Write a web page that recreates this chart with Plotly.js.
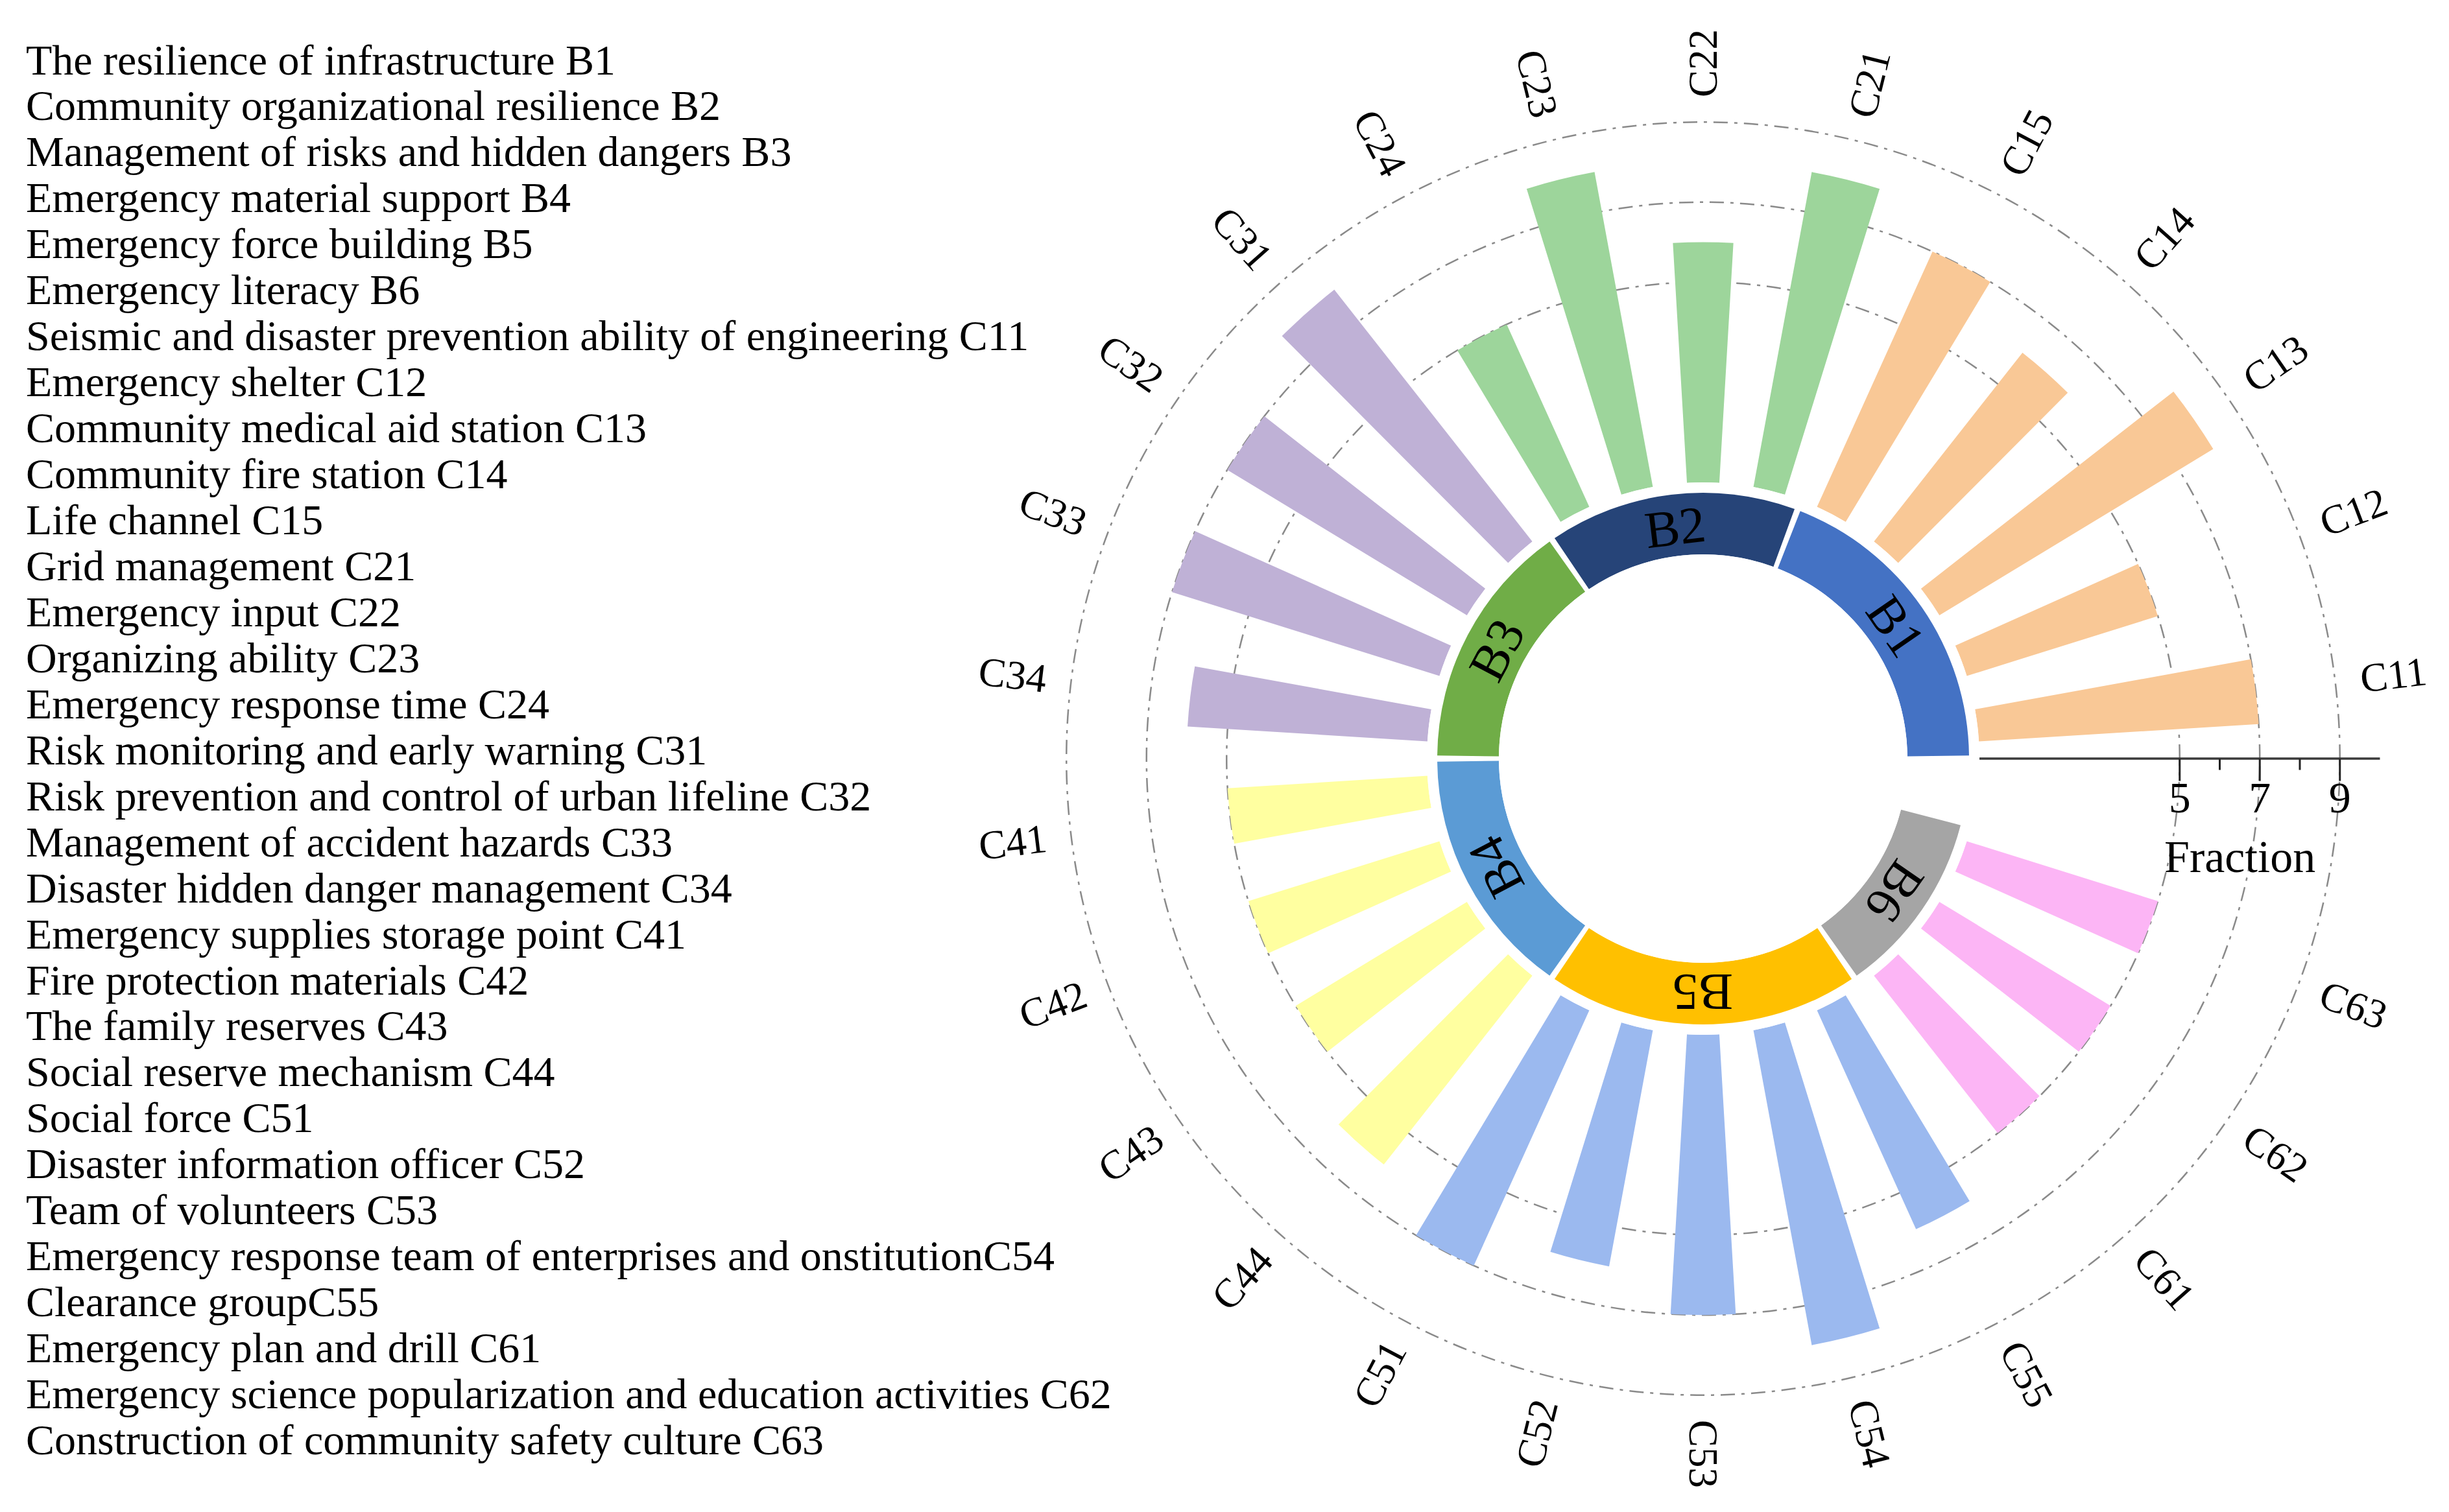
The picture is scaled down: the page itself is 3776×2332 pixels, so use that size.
<!DOCTYPE html>
<html>
<head>
<meta charset="utf-8">
<script src="https://cdn.plot.ly/plotly-3.0.1.min.js"></script>
<style>html,body{margin:0;padding:0;background:#ffffff;}</style>
</head>
<body>
<div id="chart" style="width:3776px;height:2332px;"></div>
<script>
// ---------------- data ----------------
const groupCodes = ['B1', 'B2', 'B3', 'B4', 'B5', 'B6'];
const groupColors = ['#4472C4', '#264478', '#70AD47', '#5B9BD5', '#FFC000', '#A5A5A5'];
const itemColors = ['#F9C896', '#9DD59B', '#BFB1D6', '#FFFFA0', '#9BB9EF', '#FCB5F5'];

const itemCodes = ['C11', 'C12', 'C13', 'C14', 'C15',
                   'C21', 'C22', 'C23', 'C24',
                   'C31', 'C32', 'C33', 'C34',
                   'C41', 'C42', 'C43', 'C44',
                   'C51', 'C52', 'C53', 'C54', 'C55',
                   'C61', 'C62', 'C63'];
const itemGroups = ['B1', 'B1', 'B1', 'B1', 'B1',
                    'B2', 'B2', 'B2', 'B2',
                    'B3', 'B3', 'B3', 'B3',
                    'B4', 'B4', 'B4', 'B4',
                    'B5', 'B5', 'B5', 'B5', 'B5',
                    'B6', 'B6', 'B6'];
const fractionScores = [7, 5, 8, 6, 7,
                        8, 6, 8, 5,
                        8, 7, 7, 6,
                        5, 5, 5, 6,
                        7, 6, 7, 8, 6,
                        5, 5, 5];

const radialTicks = [5, 7, 9];
const radialMinorTicks = [6, 8];
const radialRange = [0, 10];
const radialTitle = 'Fraction';

const legendLines = [
  'The resilience of infrastructure B1',
  'Community organizational resilience B2',
  'Management of risks and hidden dangers B3',
  'Emergency material support B4',
  'Emergency force building B5',
  'Emergency literacy B6',
  'Seismic and disaster prevention ability of engineering C11',
  'Emergency shelter C12',
  'Community medical aid station C13',
  'Community fire station C14',
  'Life channel C15',
  'Grid management C21',
  'Emergency input C22',
  'Organizing ability C23',
  'Emergency response time C24',
  'Risk monitoring and early warning C31',
  'Risk prevention and control of urban lifeline C32',
  'Management of accident hazards C33',
  'Disaster hidden danger management C34',
  'Emergency supplies storage point C41',
  'Fire protection materials C42',
  'The family reserves C43',
  'Social reserve mechanism C44',
  'Social force C51',
  'Disaster information officer C52',
  'Team of volunteers C53',
  'Emergency response team of enterprises and onstitutionC54',
  'Clearance groupC55',
  'Emergency plan and drill C61',
  'Emergency science popularization and education activities C62',
  'Construction of community safety culture C63'
];

// ---------------- layout geometry ----------------
const W = 3776, H = 2332;
const cx = 2626, cy = 1170, R = 1043.5;          // polar centre / outer radius (px)
const holeC = 426 / R;                            // hole of the item-bar polar
const ringInner = 315, ringOuter = 410;           // group ring radii (px)
const holeB = ringInner / R;
const ringDepth = (ringOuter - ringInner) / (R - ringInner);
const nSlots = itemCodes.length + 1;              // one empty slot for the axis gap
const slotDeg = 360 / nSlots;
const FONT = 'Liberation Serif, Times New Roman, serif';

const domain = {
  x: [(cx - R) / W, (cx + R) / W],
  y: [(H - cy - R) / H, (H - cy + R) / H]
};
function toPaper(rad, deg) {
  const a = deg * Math.PI / 180;
  return {x: (cx + rad * Math.cos(a)) / W, y: (H - cy + rad * Math.sin(a)) / H};
}

// ---------------- traces ----------------
const barColorList = itemGroups.map(g => itemColors[groupCodes.indexOf(g)]);
const traces = [];
traces.push({
  type: 'barpolar', subplot: 'polar',
  r: fractionScores, theta: itemCodes, base: 0,
  width: 0.485,
  marker: {color: barColorList, line: {width: 0}},
  hoverinfo: 'theta+r', showlegend: false
});

// group ring: each group spans the slots of its items
const groupCounts = groupCodes.map(g => itemGroups.filter(x => x === g).length);
const groupStart = [];
groupCounts.reduce((acc, c, i) => { groupStart[i] = acc; return acc + c; }, 0);
const groupTheta = groupCounts.map((c, i) => (groupStart[i] + c / 2) * slotDeg);
const groupWidth = groupCounts.map(c => c * slotDeg - 1.3);
traces.push({
  type: 'barpolar', subplot: 'polar2',
  r: groupCodes.map(() => ringDepth), theta: groupTheta, width: groupWidth,
  marker: {color: groupColors, line: {width: 0}},
  text: groupCodes, hoverinfo: 'text', showlegend: false
});
// carriers for the radial tick marks (major / minor)
traces.push({type: 'scatterpolar', subplot: 'polar3', r: [], theta: [], showlegend: false, hoverinfo: 'skip'});
traces.push({type: 'scatterpolar', subplot: 'polar4', r: [], theta: [], showlegend: false, hoverinfo: 'skip'});

// ---------------- annotations ----------------
const annotations = [];
itemCodes.forEach((code, i) => {
  const deg = slotDeg / 2 + i * slotDeg;
  const p = toPaper(1072, deg);
  let dn = ((deg + 180) % 360) - 180;
  const ang = (dn >= -90 - 1e-6 && dn <= 90 + 1e-6) ? -dn : 180 - dn;
  annotations.push({
    xref: 'paper', yref: 'paper', x: p.x, y: p.y, xanchor: 'center', yanchor: 'middle',
    text: code, textangle: ang, showarrow: false,
    font: {family: FONT, size: 63, color: '#000000'}
  });
});
groupCodes.forEach((g, i) => {
  const deg = groupTheta[i];
  const p = toPaper(360, deg);
  let ang = 90 - deg;
  ang = ((ang + 540) % 360) - 180;
  annotations.push({
    xref: 'paper', yref: 'paper', x: p.x, y: p.y, xanchor: 'center', yanchor: 'middle',
    text: g, textangle: ang, showarrow: false,
    font: {family: FONT, size: 80, color: '#000000'}
  });
});
const listPitch = 70.95;
legendLines.forEach((t, i) => {
  annotations.push({
    xref: 'paper', yref: 'paper', x: 38 / W, y: (H - (92 + i * listPitch)) / H,
    xanchor: 'left', yanchor: 'middle', text: t, showarrow: false,
    font: {family: FONT, size: 66, color: '#000000'}
  });
});
annotations.push({
  xref: 'paper', yref: 'paper', x: 3453 / W, y: (H - 1322) / H,
  xanchor: 'center', yanchor: 'middle', text: radialTitle, showarrow: false,
  font: {family: FONT, size: 70, color: '#000000'}
});

// ---------------- layout ----------------
const hiddenAngular = {visible: false, showgrid: false, showline: false, showticklabels: false, ticks: ''};
function tickPolar(vals, len) {
  return {
    domain: domain, hole: holeC, bgcolor: 'rgba(0,0,0,0)',
    angularaxis: Object.assign({type: 'linear', rotation: 0, direction: 'counterclockwise'}, hiddenAngular),
    radialaxis: {
      range: radialRange, angle: 0, side: 'clockwise',
      tickmode: 'array', tickvals: vals,
      ticks: 'outside', ticklen: len, tickwidth: 3, tickcolor: '#222222',
      showline: false, showgrid: false, showticklabels: false
    }
  };
}
const layout = {
  width: W, height: H, autosize: false,
  margin: {l: 0, r: 0, t: 0, b: 0, pad: 0},
  paper_bgcolor: '#ffffff',
  showlegend: false,
  font: {family: FONT, color: '#000000'},
  polar: {
    domain: domain, hole: holeC, bgcolor: 'rgba(0,0,0,0)',
    angularaxis: {
      type: 'category', categoryorder: 'array', categoryarray: itemCodes, period: nSlots,
      rotation: slotDeg / 2, direction: 'counterclockwise',
      showgrid: false, showline: false, showticklabels: false, ticks: ''
    },
    radialaxis: {
      range: radialRange, angle: 0, side: 'clockwise',
      tickmode: 'array', tickvals: radialTicks,
      ticks: '',
      showline: true, linecolor: '#3a3a3a', linewidth: 3.5,
      showgrid: true, gridcolor: '#8a8a8a', gridwidth: 2.5, griddash: '22px,10px,5px,10px',
      tickfont: {family: FONT, size: 68, color: '#000000'},
      layer: 'above traces'
    }
  },
  polar2: {
    domain: domain, hole: holeB, bgcolor: 'rgba(0,0,0,0)',
    angularaxis: Object.assign({type: 'linear', thetaunit: 'degrees', rotation: 0, direction: 'counterclockwise'}, hiddenAngular),
    radialaxis: {range: [0, 1], visible: false, showgrid: false, showline: false, showticklabels: false, ticks: ''}
  },
  polar3: tickPolar(radialTicks, 34),
  polar4: tickPolar(radialMinorTicks, 17),
  annotations: annotations
};

Plotly.newPlot('chart', traces, layout, {staticPlot: true, displayModeBar: false});
</script>
</body>
</html>
